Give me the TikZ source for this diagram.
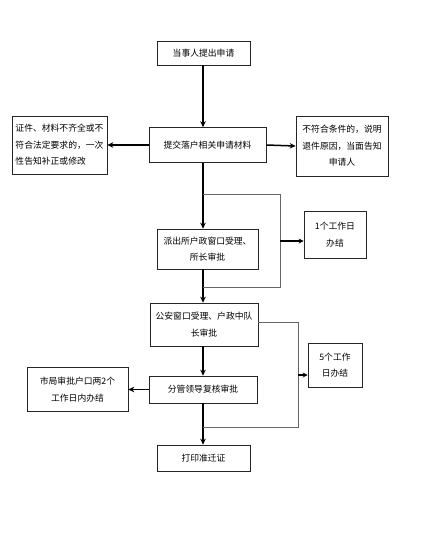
\documentclass[tikz,border=0pt]{standalone}
\usepackage{fontspec}
\newfontfamily\cjk{Noto Sans CJK SC}
\usetikzlibrary{arrows.meta}
\begin{document}
\begin{tikzpicture}[x=1pt, y=-1pt, font=\cjk\fontsize{8.8}{16.5}\selectfont,
    box/.style={draw=black!85, line width=0.6pt, inner sep=2pt, align=center},
    flow/.style={line width=1.5pt, -{Stealth[length=6pt,width=5.5pt]}},
    loopline/.style={draw=black!60, line width=0.8pt},
    note/.style={line width=1.3pt, -{Stealth[length=5pt,width=5pt]}}]
  \useasboundingbox (0,0) rectangle (445,536);
  % main column
  \node[box, minimum width=93pt, minimum height=24pt] (apply) at (203.5,53) {当事人提出申请};
  \node[box, minimum width=117pt, minimum height=35pt] (submit) at (207.5,145) {提交落户相关申请材料};
  \node[box, minimum width=101pt, minimum height=40pt] (pcs) at (207.5,249) {派出所户政窗口受理、\\所长审批};
  \node[box, minimum width=108pt, minimum height=43pt] (police) at (204,324.5) {公安窗口受理、户政中队\\长审批};
  \node[box, minimum width=108pt, minimum height=27pt] (leader) at (203,389.5) {分管领导复核审批};
  \node[box, minimum width=93pt, minimum height=26pt] (print) at (203.5,458) {打印准迁证};
  % side boxes
  \node[box, minimum width=95pt, minimum height=58pt, align=left] (lack) at (59.5,145) {证件、材料不齐全或不\\符合法定要求的，一次\\性告知补正或修改};
  \node[box, minimum width=92pt, minimum height=60pt] (reject) at (342,146) {不符合条件的，说明\\退件原因，当面告知\\申请人};
  \node[box, minimum width=62pt, minimum height=47pt] (day1) at (335,234.5) {1个工作日\\办结};
  \node[box, minimum width=54pt, minimum height=44pt] (day5) at (335,365) {5个工作\\日办结};
  \node[box, minimum width=101pt, minimum height=44pt] (city) at (77.5,389.5) {市局审批户口两2个\\工作日内办结};
  % bracket corners
  \coordinate (b1top) at (203,194);
  \coordinate (b1tr) at (280,194);
  \coordinate (b1br) at (280,287);
  \coordinate (b1bot) at (203,287);
  \coordinate (b1mid) at (280,241);
  \coordinate (b2tr) at (298,322);
  \coordinate (b2br) at (298,427);
  \coordinate (b2bot) at (203,427);
  \coordinate (b2mid) at (298,375);
  % connectors
  \draw[flow] (apply.south -| 203,0) -- (submit.north -| 203,0);
  \draw[flow] (submit.south -| 203,0) -- (pcs.north -| 203,0);
  \draw[flow] (pcs.south -| 203,0) -- (police.north -| 203,0);
  \draw[flow] (police.south -| 203,0) -- (leader.north -| 203,0);
  \draw[flow] (leader.south -| 203,0) -- (print.north -| 203,0);
  \draw[flow] (submit.west) -- (lack.east);
  \draw[flow] (submit.east) -- (reject.west);
  \draw[flow] (leader.west) -- (city.east);
  \draw[loopline] (b1top) -- (b1tr) -- (b1br) -- (b1bot);
  \draw[note] (b1mid) -- (b1mid -| day1.west);
  \draw[loopline] (police.east |- b2tr) -- (b2tr) -- (b2br) -- (b2bot);
  \draw[note] (b2mid) -- (b2mid -| day5.west);
\end{tikzpicture}
\end{document}
